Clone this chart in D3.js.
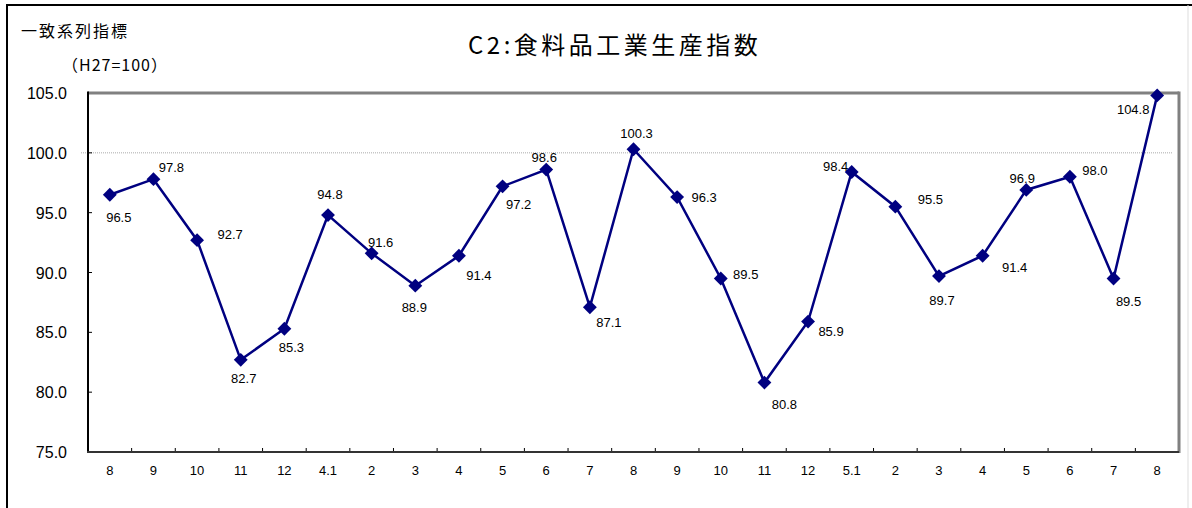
<!DOCTYPE html>
<html>
<head>
<meta charset="utf-8">
<script src="https://d3js.org/d3.v7.min.js"></script>
<style>
  body { margin: 0; background: #fff; }
  svg { display: block; }
</style>
</head>
<body>
<script>
var months = ['8','9','10','11','12','4.1','2','3','4','5','6','7','8','9','10','11','12','5.1','2','3','4','5','6','7','8']
var values = [96.5, 97.8, 92.7, 82.7, 85.3, 94.8, 91.6, 88.9, 91.4, 97.2, 98.6, 87.1, 100.3,
              96.3, 89.5, 80.8, 85.9, 98.4, 95.5, 89.7, 91.4, 96.9, 98.0, 89.5, 104.8]
var yTicks = [75, 80, 85, 90, 95, 100, 105]
// label offsets from each point [dx, dy] (text centre)
var labelOffsets = [[9,22],[18,-12],[33,-6],[3,18],[7,18],[2,-21],[9,-11],[-1,21],[20,19],[16,18],
                    [-2,-13],[19,15],[3,-16],[27,0],[25,-4],[20,21],[23,9],[-16,-6],[35,-8],[3,24],
                    [32,11],[-4,-12],[25,-7],[15,23],[-24,14]]

var w = 1192
var h = 508
var plotL = 88, plotR = 1179, plotT = 93, plotB = 452

var svg = d3.select('body').append('svg').attr('width', w).attr('height', h)

// outer frame
svg.append('line').attr('x1', 7).attr('y1', 4).attr('x2', 7).attr('y2', h)
    .attr('stroke', '#000').attr('stroke-width', 2)
svg.append('line').attr('x1', 6).attr('y1', 5).attr('x2', w).attr('y2', 5)
    .attr('stroke', '#000').attr('stroke-width', 2)
svg.append('line').attr('x1', 1188).attr('y1', 5).attr('x2', 1188).attr('y2', h)
    .attr('stroke', '#ddd').attr('stroke-width', 1)

var xScale = d3.scaleBand().domain(d3.range(months.length)).range([plotL, plotR]).padding(0)
var yScale = d3.scaleLinear().domain([75, 105]).range([plotB, plotT])
var cx = function(i) { return xScale(i) + xScale.bandwidth() / 2 }

// titles
svg.append('text').text('C2:食料品工業生産指数')
    .attr('x', 468).attr('y', 54)
    .attr('font-family', 'Noto Sans CJK JP, sans-serif')
    .attr('font-size', '24px')
    .attr('letter-spacing', '3.5px')
    .attr('fill', '#000')
svg.append('text').text('一致系列指標')
    .attr('x', 21).attr('y', 37)
    .attr('font-family', 'Noto Sans CJK JP, sans-serif')
    .attr('font-size', '16px')
    .attr('letter-spacing', '2px')
    .attr('fill', '#000')
svg.append('text').text('（H27=100）')
    .attr('x', 62).attr('y', 71)
    .attr('font-family', 'Noto Sans CJK JP, sans-serif')
    .attr('font-size', '16px')
    .attr('letter-spacing', '1px')
    .attr('fill', '#000')

// gridline at 100
svg.append('line')
    .attr('x1', 81).attr('x2', 1173)
    .attr('y1', yScale(100)).attr('y2', yScale(100))
    .attr('stroke', '#aaa').attr('stroke-width', 1).attr('stroke-dasharray', '1,1')

// y axis labels and inner ticks
svg.selectAll('.ylab')
    .data(yTicks)
    .enter()
    .append('text')
    .attr('class', 'ylab')
    .text(function(d) { return d.toFixed(1) })
    .attr('x', 67)
    .attr('y', function(d) { return yScale(d) + 6 })
    .attr('text-anchor', 'end')
    .attr('font-family', 'Liberation Sans, Arial, sans-serif')
    .attr('font-size', '16px')
    .attr('fill', '#000')

svg.selectAll('.ytick')
    .data(yTicks.slice(1, -1))
    .enter()
    .append('line')
    .attr('class', 'ytick')
    .attr('x1', plotL).attr('x2', plotL + 4)
    .attr('y1', function(d) { return yScale(d) }).attr('y2', function(d) { return yScale(d) })
    .attr('stroke', '#000').attr('stroke-width', 1)

// x axis labels and ticks
svg.selectAll('.xlab')
    .data(months)
    .enter()
    .append('text')
    .attr('class', 'xlab')
    .text(function(d) { return d })
    .attr('x', function(d, i) { return cx(i) })
    .attr('y', 475)
    .attr('text-anchor', 'middle')
    .attr('font-family', 'Liberation Sans Narrow, Arial Narrow, sans-serif')
    .attr('font-size', '13px')
    .attr('fill', '#000')

svg.selectAll('.xtick')
    .data(d3.range(1, months.length))
    .enter()
    .append('line')
    .attr('class', 'xtick')
    .attr('x1', function(i) { return xScale(i) }).attr('x2', function(i) { return xScale(i) })
    .attr('y1', plotB).attr('y2', plotB - 4)
    .attr('stroke', '#000').attr('stroke-width', 1)

// plot frame
svg.append('line').attr('x1', plotL).attr('y1', plotT).attr('x2', plotR).attr('y2', plotT)
    .attr('stroke', '#808080').attr('stroke-width', 3)
svg.append('line').attr('x1', plotR).attr('y1', plotT - 1.5).attr('x2', plotR).attr('y2', plotB + 1)
    .attr('stroke', '#808080').attr('stroke-width', 3)
svg.append('line').attr('x1', plotL).attr('y1', plotT - 1.5).attr('x2', plotL).attr('y2', plotB + 1)
    .attr('stroke', '#000').attr('stroke-width', 2)
svg.append('line').attr('x1', plotL - 1).attr('y1', plotB).attr('x2', plotR).attr('y2', plotB)
    .attr('stroke', '#333').attr('stroke-width', 2)

// line
var line = d3.line()
    .x(function(d, i) { return cx(i) })
    .y(function(d) { return yScale(d) })

svg.append('path')
    .datum(values)
    .attr('d', line)
    .attr('fill', 'none')
    .attr('stroke', '#000080')
    .attr('stroke-width', 2.5)

// markers
var diamond = d3.symbol().type(d3.symbolSquare).size(96)
svg.selectAll('.pt')
    .data(values)
    .enter()
    .append('path')
    .attr('class', 'pt')
    .attr('d', diamond)
    .attr('transform', function(d, i) { return 'translate(' + cx(i) + ',' + yScale(d) + ') rotate(45)' })
    .attr('fill', '#000080')

// value labels
svg.selectAll('.vlab')
    .data(values)
    .enter()
    .append('text')
    .attr('class', 'vlab')
    .text(function(d) { return d.toFixed(1) })
    .attr('x', function(d, i) { return cx(i) + labelOffsets[i][0] })
    .attr('y', function(d, i) { return yScale(d) + labelOffsets[i][1] + 5 })
    .attr('text-anchor', 'middle')
    .attr('font-family', 'Liberation Sans, Arial, sans-serif')
    .attr('font-size', '13px')
    .attr('fill', '#000')
</script>
</body>
</html>
